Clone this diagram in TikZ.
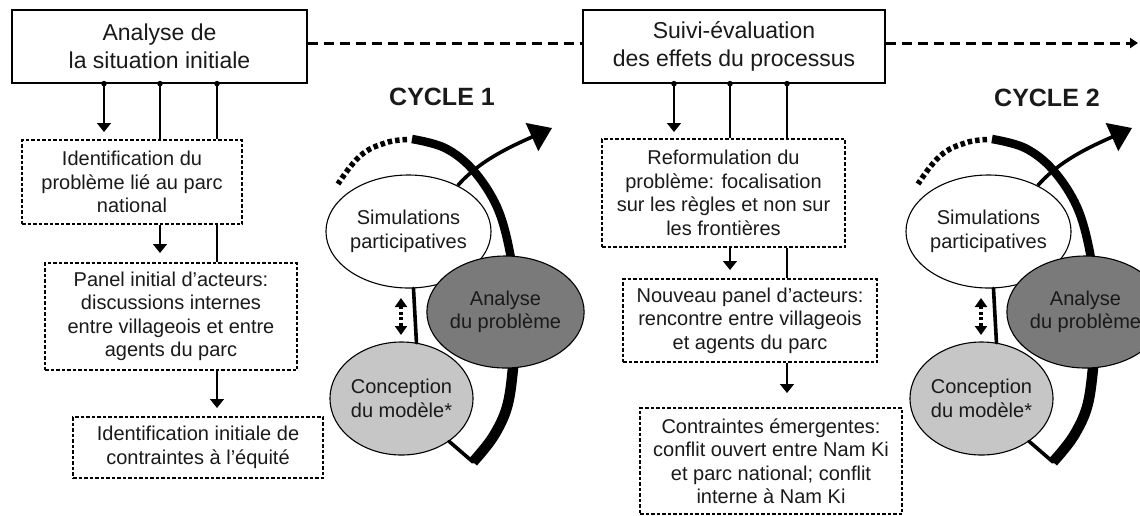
\documentclass[tikz,border=0pt]{standalone}
\usepackage{fontspec}
\setmainfont{Liberation Sans}
\usetikzlibrary{arrows.meta,shapes.geometric}
\definecolor{darkg}{HTML}{7A7A7A}
\definecolor{lightg}{HTML}{C6C6C6}
\definecolor{txt}{HTML}{1A1A1A}
\tikzset{
  topbox/.style={draw, line width=1.3pt, inner sep=0pt, align=center, text=txt,
    font=\fontsize{23}{27.5}\selectfont},
  dbox/.style={draw, line width=1.1pt, dash pattern=on 3.5pt off 2pt, inner sep=0pt,
    align=center, text=txt, font=\fontsize{20}{23.5}\selectfont},
  link/.style={line width=1.4pt},
  arr/.style={line width=1.4pt, -{Triangle[length=9pt,width=14pt]}},
  phase/.style={ellipse, draw, line width=1.1pt, minimum width=127pt, minimum height=113pt,
    inner sep=0pt, align=center, text=txt, font=\fontsize{20}{23.5}\selectfont},
  cyclabel/.style={font=\bfseries\fontsize{25}{30}\selectfont, text=txt},
  dashlink/.style={line width=3pt, dash pattern=on 10pt off 6pt},
  thinlink/.style={line width=3.6pt, line cap=round},
}
\newcommand\cyclepic[2]{%
\begin{scope}[xshift=#2pt]
  % thick arc (behind the dark ellipse)
  \draw[line width=8.5pt] plot[smooth, tension=0.6] coordinates
     {(412,139) (445,148) (473,170) (497,207) (510,253) (515,300)};
  \draw[line width=10.5pt] plot[smooth, tension=0.6] coordinates
     {(515,330) (513,368) (507,407) (493,437) (473,462)};
  % dotted part
  \draw[line width=5.5pt, dash pattern=on 4.5pt off 3pt] plot[smooth, tension=0.7] coordinates
     {(407,139.5) (385,143) (360,156) (338,184)};
  % phases
  \node[phase, fill=white] (S#1) at (408.5,231.5) {Simulations\\participatives};
  \node[phase, fill=darkg, minimum width=125pt, minimum height=112pt] (D#1) at (505.5,312) {Analyse\\du problème};
  \node[phase, fill=lightg] (L#1) at (401.5,398.5) {Conception\\du modèle*};
  % links
  \draw[thinlink] (S#1.-85) -- (L#1.75);
  \coordinate (V#1) at (473,462);
  \draw[thinlink, line join=miter] (V#1) -- (L#1.-42);
  \coordinate (T#1) at (552,128);
  \draw[line width=3.6pt, -{Triangle[length=22pt,width=30pt]}]
     (S#1.43) .. controls (480,160) and (512,146) .. (T#1);
  \coordinate (U#1) at (401,298);
  \coordinate (W#1) at (401,335);
  \draw[line width=3.2pt, dash pattern=on 3pt off 2.5pt,
     {Triangle[length=9pt,width=12pt]}-{Triangle[length=9pt,width=12pt]}] (U#1) -- (W#1);
\end{scope}}
\begin{document}
\begin{tikzpicture}[x=1pt,y=-1pt]
\useasboundingbox (0,0) rectangle (1140,515);
\clip (0,0) rectangle (1140,515);
\fill[white] (0,0) rectangle (1140,515);

% left column
\node[topbox, minimum width=295pt, minimum height=73pt] (A) at (159.5,46.5) {Analyse de\\la situation initiale};
\node[dbox, minimum width=220pt, minimum height=84pt] (d1) at (132,182) {Identification du\\problème lié au parc\\national};
\node[dbox, minimum width=252pt, minimum height=107pt] (d2) at (171,316.5) {Panel initial d’acteurs:\\discussions internes\\entre villageois et entre\\agents du parc};
\node[dbox, minimum width=250pt, minimum height=61pt] (d3) at (198,447.5) {Identification initiale de\\contraintes à l’équité};

% right column
\node[topbox, minimum width=302pt, minimum height=73pt] (B) at (734,46.5) {Suivi-évaluation\\des effets du processus};
\node[dbox, minimum width=243pt, minimum height=108pt] (e1) at (723.5,193) {Reformulation du\\problème: focalisation\\sur les règles et non sur\\les frontières};
\node[dbox, minimum width=254pt, minimum height=83pt] (e2) at (750,320.5) {Nouveau panel d’acteurs:\\rencontre entre villageois\\et agents du parc};
\node[dbox, minimum width=262pt, minimum height=106pt] (e3) at (771,461) {Contraintes émergentes:\\conflit ouvert entre Nam Ki\\et parc national; conflit\\interne à Nam Ki};

% connectors left
\coordinate (a1) at (104,132);
\coordinate (a2) at (160,253);
\coordinate (a3) at (217,408);
\draw[arr] (a1 |- A.south) -- (a1);
\draw[link] (a2 |- A.south) -- (a2 |- d1.north);
\draw[link] (a3 |- A.south) -- (a3 |- d1.north);
\foreach \c in {a1,a2,a3} \fill (\c |- A.south) circle (2.8pt);
\draw[arr] (a2 |- d1.south) -- (a2);
\draw[link] (a3 |- d1.south) -- (a3 |- d2.north);
\draw[arr] (a3 |- d2.south) -- (a3);

% connectors right
\coordinate (b1) at (674,132);
\coordinate (b2) at (730,270);
\coordinate (b3) at (787,393);
\draw[arr] (b1 |- B.south) -- (b1);
\draw[link] (b2 |- B.south) -- (b2 |- e1.north);
\draw[link] (b3 |- B.south) -- (b3 |- e1.north);
\foreach \c in {b1,b2,b3} \fill (\c |- B.south) circle (2.8pt);
\draw[arr] (b2 |- e1.south) -- (b2);
\draw[link] (b3 |- e1.south) -- (b3 |- e2.north);
\draw[arr] (b3 |- e2.south) -- (b3);

% dashed time line
\coordinate (endc) at (1138,43);
\draw[dashlink] ([yshift=3.5pt]A.east) -- ([yshift=3.5pt]B.west);
\draw[dashlink, -{Triangle[length=8pt,width=10pt]}] ([yshift=3.5pt]B.east) -- (endc);

% cycles
\node[cyclabel] (c1) at (442,97) {CYCLE 1};
\node[cyclabel] (c2) at (1047,98) {CYCLE 2};
\cyclepic{1}{0}
\cyclepic{2}{580}
\end{tikzpicture}
\end{document}
